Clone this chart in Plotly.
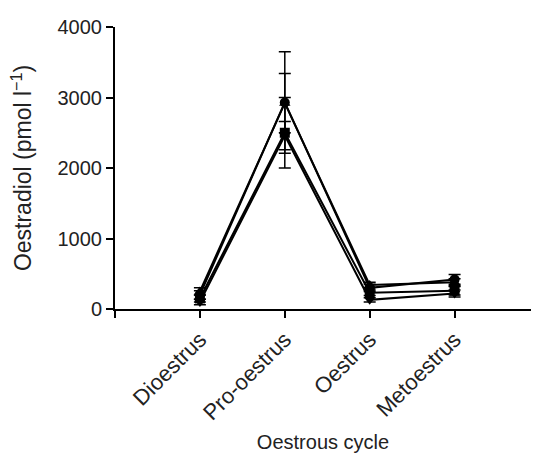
import plotly.graph_objects as go

categories = ["Dioestrus", "Pro-oestrus", "Oestrus", "Metoestrus"]
cat_pos = [0, 1, 2, 3]

series_circle = [200, 2930, 300, 420]
err_circle = [60, 720, 50, 70]
series_tri_up = [250, 2920, 340, 380]
err_tri_up = [50, 420, 40, 50]
series_square = [150, 2500, 230, 260]
err_square = [50, 500, 40, 60]
series_tri_down = [100, 2460, 130, 220]
err_tri_down = [40, 200, 30, 50]

y_ticks = [0, 1000, 2000, 3000, 4000]

series = [
    (series_circle, err_circle, "circle"),
    (series_tri_up, err_tri_up, "triangle-up"),
    (series_square, err_square, "square"),
    (series_tri_down, err_tri_down, "triangle-down"),
]

fig = go.Figure()
for vals, errs, sym in series:
    fig.add_trace(go.Scatter(
        x=cat_pos, y=vals, mode="lines+markers",
        line=dict(color="black", width=2),
        marker=dict(symbol=sym, size=10, color="black"),
        error_y=dict(type="data", array=errs, visible=True, color="black",
                     thickness=1.5, width=6),
        showlegend=False, cliponaxis=False,
    ))

font_family = "Liberation Sans, Arial, sans-serif"
fig.update_layout(
    width=539, height=458,
    margin=dict(l=115, r=8, t=27, b=149),
    plot_bgcolor="white", paper_bgcolor="white",
    font=dict(family=font_family, size=21, color="#222"),
    xaxis=dict(
        range=[-1, 3.9], tickmode="array",
        tickvals=[-1] + cat_pos, ticktext=[""] + categories,
        tickangle=-45, ticks="outside", ticklen=7, tickwidth=1.5,
        tickcolor="black", showline=True, linecolor="black", linewidth=2,
        showgrid=False, zeroline=False, automargin=False,
        tickfont=dict(size=22),
        title=dict(text="Oestrous cycle", font=dict(size=20), standoff=11),
    ),
    yaxis=dict(
        range=[0, 4000], tickmode="array", tickvals=y_ticks,
        ticks="outside", ticklen=7, tickwidth=1.5, tickcolor="black",
        showline=True, linecolor="black", linewidth=2,
        showgrid=False, zeroline=False, automargin=False,
        tickfont=dict(size=20),
        title=dict(text="Oestradiol (pmol l<sup>−1</sup>)", font=dict(size=23), standoff=19),
    ),
)

fig.write_html("out.html", config={"displayModeBar": False},
               post_script="document.body.style.margin='0px';")
